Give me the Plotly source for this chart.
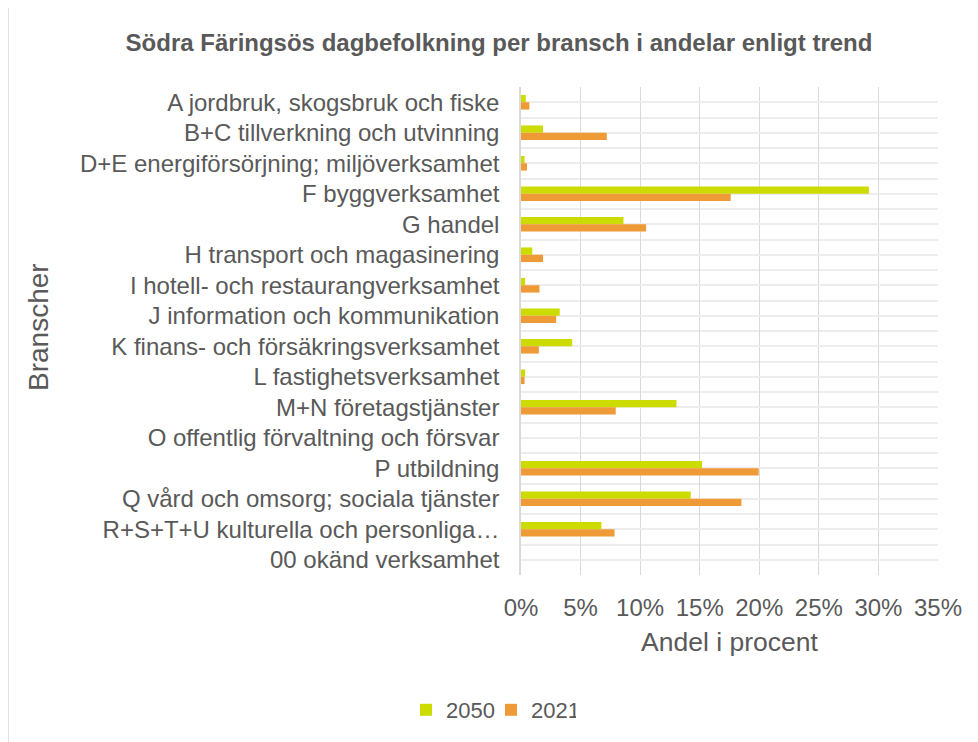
import plotly.graph_objects as go

categories = [
    "A jordbruk, skogsbruk och fiske",
    "B+C tillverkning och utvinning",
    "D+E energiförsörjning; miljöverksamhet",
    "F byggverksamhet",
    "G handel",
    "H transport och magasinering",
    "I hotell- och restaurangverksamhet",
    "J information och kommunikation",
    "K finans- och försäkringsverksamhet",
    "L fastighetsverksamhet",
    "M+N företagstjänster",
    "O offentlig förvaltning och försvar",
    "P utbildning",
    "Q vård och omsorg; sociala tjänster",
    "R+S+T+U kulturella och personliga…",
    "00 okänd verksamhet",
]
values_2050 = [0.4, 1.85, 0.3, 29.2, 8.6, 0.95, 0.35, 3.25, 4.3, 0.35, 13.05, 0.0, 15.2, 14.25, 6.75, 0.0]
values_2021 = [0.7, 7.2, 0.5, 17.6, 10.5, 1.85, 1.55, 2.95, 1.5, 0.3, 7.95, 0.0, 19.95, 18.5, 7.85, 0.0]
x_ticks = [0, 5, 10, 15, 20, 25, 30, 35]

W, H = 978, 742
OFF = 8  # page body offset
ML, MT = 521 - OFF, 87 - OFF
PR, PB = 938 - OFF, 575 - OFF
MR, MB = W - PR, H - PB
PW = PR - ML
PH = PB - MT

FONT = "Liberation Sans, Arial, sans-serif"
TXT = "#595959"
GREEN = "#cddc00"
ORANGE = "#ee9a36"

pos = list(range(len(categories)))

fig = go.Figure()
fig.add_trace(go.Bar(y=pos, x=values_2050, orientation="h", name="2050",
                     marker=dict(color=GREEN, line=dict(width=0))))
fig.add_trace(go.Bar(y=pos, x=values_2021, orientation="h", name="2021",
                     marker=dict(color=ORANGE, line=dict(width=0))))

fig.update_layout(
    width=W, height=H,
    margin=dict(l=ML, r=MR, t=MT, b=MB, autoexpand=False),
    paper_bgcolor="white", plot_bgcolor="white",
    font=dict(family=FONT, color=TXT, size=24),
    barmode="group", bargap=0.52, bargroupgap=0,
    title=dict(text="<b>Södra Färingsös dagbefolkning per bransch i andelar enligt trend</b>",
               font=dict(size=24, color=TXT, family=FONT),
               x=(499 - OFF) / W, xref="container", xanchor="center",
               y=1 - (43 - OFF) / H, yref="container", yanchor="middle"),
    legend=dict(orientation="h", xref="container", yref="container",
                x=(491 - OFF) / W, xanchor="center", y=1 - (710 - OFF) / H, yanchor="middle",
                font=dict(size=22, color=TXT), itemwidth=30,
                entrywidth=40, entrywidthmode="pixels",
                traceorder="normal"),
    showlegend=True,
)

fig.update_xaxes(
    range=[0, 35], tickvals=x_ticks, ticktext=[f"{v}%" for v in x_ticks],
    showgrid=True, gridcolor="#d9d9d9", gridwidth=1.3,
    zeroline=False, showline=False, ticks="",
    tickfont=dict(size=24, color=TXT), ticklabelstandoff=16,
    title=dict(text="Andel i procent", font=dict(size=26.5, color=TXT), standoff=12),
)

fig.update_yaxes(
    range=[len(categories) - 0.5, -0.5], tickvals=pos, ticktext=categories,
    showgrid=True, gridcolor="#ededed", gridwidth=1.5,
    minor=dict(tickvals=[p - 0.5 for p in pos] + [len(categories) - 0.5],
               showgrid=True, gridcolor="#ededed", gridwidth=1.5, ticks=""),
    zeroline=False, showline=True, linecolor="#d9d9d9", linewidth=1.5,
    ticks="", tickfont=dict(size=24, color=TXT), ticklabelstandoff=15,
)

fig.add_annotation(
    text="Branscher", textangle=-90, showarrow=False,
    xref="paper", yref="paper",
    x=(38 - OFF - ML) / PW, y=1 - (327 - OFF - MT) / PH,
    xanchor="center", yanchor="middle",
    font=dict(size=28, color=TXT, family=FONT),
)

fig.add_shape(
    type="rect", xref="paper", yref="paper",
    x0=(8 - OFF - ML) / PW, x1=(W + 20 - ML) / PW,
    y0=1 - (H + 20 - MT) / PH, y1=1 - (6 - OFF - MT) / PH,
    line=dict(color="#d9d9d9", width=1.5), fillcolor="rgba(0,0,0,0)", layer="below",
)

fig.write_html("out.html")
